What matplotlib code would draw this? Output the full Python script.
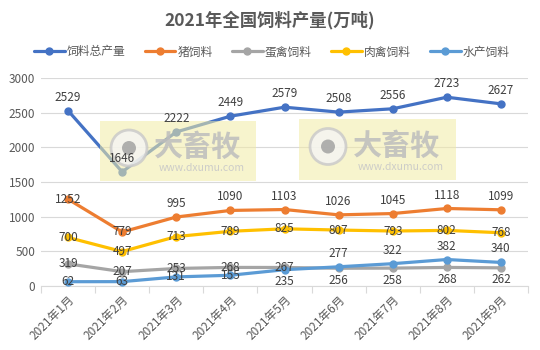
import matplotlib
matplotlib.use("Agg")
import matplotlib.pyplot as plt
from matplotlib.patches import Rectangle, Ellipse

plt.rcParams['font.family'] = ['Noto Sans CJK SC', 'DejaVu Sans']

months = ['2021年1月', '2021年2月', '2021年3月', '2021年4月', '2021年5月',
          '2021年6月', '2021年7月', '2021年8月', '2021年9月']
series_names = ['饲料总产量', '猪饲料', '蛋禽饲料', '肉禽饲料', '水产饲料']
total = [2529, 1646, 2222, 2449, 2579, 2508, 2556, 2723, 2627]
pig = [1252, 779, 995, 1090, 1103, 1026, 1045, 1118, 1099]
layer = [319, 207, 253, 268, 267, 256, 258, 268, 262]
broiler = [700, 497, 713, 789, 825, 807, 793, 802, 768]
aqua = [62, 63, 131, 155, 235, 277, 322, 382, 340]
yticks = [0, 500, 1000, 1500, 2000, 2500, 3000]

series = [total, pig, layer, broiler, aqua]
colors = ['#4472C4', '#ED7D31', '#A5A5A5', '#FFC000', '#5B9BD5']
# label placement per point: a=above, b=below, c=centered
label_pos = [
    ['a'] * 9,
    ['c', 'c'] + ['a'] * 7,
    ['c'] * 5 + ['b'] * 4,
    ['c'] * 9,
    ['c'] * 4 + ['b'] + ['a'] * 4,
]

fig = plt.figure(figsize=(5.4, 3.5), dpi=100)
ax = fig.add_axes([41/540, 1-286/350, (528-41)/540, (286-78)/350])

x = list(range(len(months)))
handles = []
for s, name, c in zip(series, series_names, colors):
    h, = ax.plot(x, s, color=c, lw=2.3, marker='o', ms=5, label=name,
                 solid_capstyle='round', zorder=3)
    handles.append(h)

txt_color = '#404040'
for s, c, pos in zip(series, colors, label_pos):
    for xi, v, p in zip(x, s, pos):
        if p == 'a':
            ax.annotate(str(v), (xi, v), xytext=(0, 5), textcoords='offset points',
                        ha='center', va='bottom', fontsize=8.5, color=txt_color, zorder=8)
        elif p == 'b':
            ax.annotate(str(v), (xi, v), xytext=(0, -4), textcoords='offset points',
                        ha='center', va='top', fontsize=8.5, color=txt_color, zorder=8)
        else:
            ax.annotate(str(v), (xi, v), xytext=(0, 0), textcoords='offset points',
                        ha='center', va='center', fontsize=8.5, color=txt_color, zorder=8)

ax.set_xlim(-0.5, len(months) - 0.5)
ax.set_ylim(0, 3000)
ax.set_yticks(yticks)
ax.set_yticklabels([str(t) for t in yticks], fontsize=8.5, color='#595959')
ax.grid(axis='y', color='#D9D9D9', lw=0.8, zorder=0)
ax.set_axisbelow(True)
for sp in ['top', 'right', 'left']:
    ax.spines[sp].set_visible(False)
ax.spines['bottom'].set_color('#D9D9D9')
ax.spines['bottom'].set_linewidth(0.8)
ax.tick_params(axis='y', length=0, pad=4)

ax.set_xticks(x)
ax.set_xticklabels(months, rotation=45, ha='right', rotation_mode='anchor',
                   fontsize=8.5, color='#595959')
ax.tick_params(axis='x', which='major', length=0, pad=5)
ax.set_xticks([i - 0.5 for i in range(len(months) + 1)], minor=True)
ax.tick_params(axis='x', which='minor', length=5, color='#D9D9D9', width=0.8)

fig.text(270/540, 1-20/350, '2021年全国饲料产量(万吨)', ha='center', va='center',
         fontsize=12.5, fontweight='bold', color='#595959')

fig.legend(handles=handles, labels=series_names, loc='center',
           bbox_to_anchor=(272/540, 1-52/350), ncol=5, frameon=False,
           fontsize=8.5, labelcolor='#595959', handlelength=2.6,
           handletextpad=0.2, columnspacing=1.6)

# watermarks (drawn inside the axes, between lines and data labels)
tf = fig.transFigure
for (x0, y0, x1, y1) in [(100, 121, 256, 181), (299, 119, 456, 180)]:
    ax.add_patch(Rectangle((x0/540, 1-y1/350), (x1-x0)/540, (y1-y0)/350,
                           transform=tf, facecolor='#F2EBA5', clip_on=False,
                           alpha=0.55, edgecolor='none', zorder=4))
    cx, cy, r = x0 + 29, (y0 + y1) / 2 - 3, 18
    ax.add_patch(Ellipse((cx/540, 1-cy/350), 2*r/540, 2*r/350, clip_on=False,
                         transform=tf, facecolor='#F5F5F5',
                         edgecolor='#C8C8C8', lw=2, alpha=0.8, zorder=5))
    ax.add_patch(Ellipse((cx/540, 1-cy/350), 14/540, 14/350, clip_on=False,
                         transform=tf, facecolor='#9E9E9E',
                         edgecolor='none', alpha=0.8, zorder=5))
    ax.text((x0 + 98)/540, 1-(cy - 1)/350, '大畜牧', ha='center', va='center',
            transform=tf, fontsize=21, fontweight='bold', color='#BDBDBD',
            alpha=0.85, zorder=5)
    ax.text((x0 + 102)/540, 1-(y1 - 13)/350, 'www.dxumu.com', ha='center', va='center',
            transform=tf, fontsize=7.5, color='#C8C8C8', alpha=0.9, zorder=5)

fig.savefig('out.png', dpi=100, facecolor='white')
